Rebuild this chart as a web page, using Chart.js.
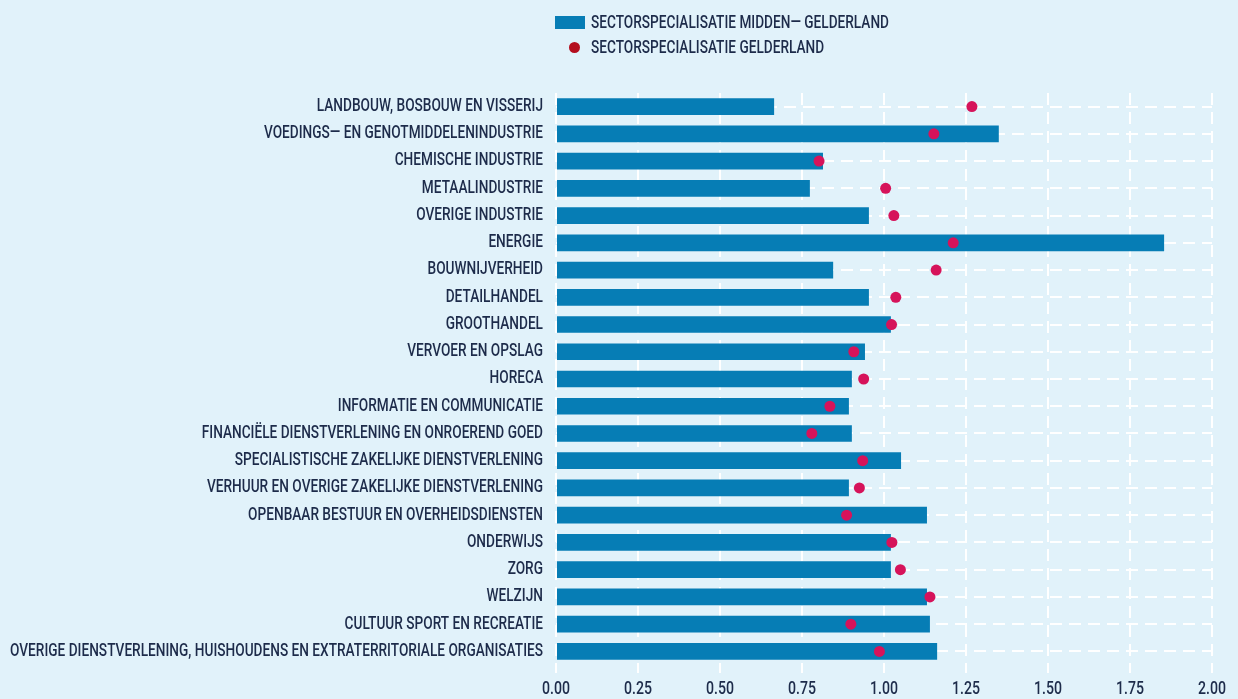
<!DOCTYPE html>
<html lang="nl">
<head>
<meta charset="utf-8">
<title>Sectorspecialisatie Midden-Gelderland</title>
<script src="https://cdn.jsdelivr.net/npm/chart.js@4"></script>
<style>
  html, body { margin: 0; padding: 0; background: #e1f2fa; }
  #wrap { position: relative; width: 1238px; height: 699px; overflow: hidden; }
  #legend { position: absolute; left: 555px; top: 10px; color: #1d2b4a; font-family: Roboto, 'Liberation Sans', sans-serif; font-weight: 500; font-size: 18.5px; }
  .item { position: relative; height: 25px; width: 400px; }
  .item span { position: absolute; }
  .item .txt { left: 36px; top: 0; line-height: 25px; white-space: nowrap; transform-origin: 0 50%; }
</style>
</head>
<body>
<div id="wrap">
  <canvas id="chart"></canvas>
  <div id="legend"></div>
</div>
<script>
// DATA

const categories = [
    "LANDBOUW, BOSBOUW EN VISSERIJ",
    "VOEDINGS— EN GENOTMIDDELENINDUSTRIE",
    "CHEMISCHE INDUSTRIE",
    "METAALINDUSTRIE",
    "OVERIGE INDUSTRIE",
    "ENERGIE",
    "BOUWNIJVERHEID",
    "DETAILHANDEL",
    "GROOTHANDEL",
    "VERVOER EN OPSLAG",
    "HORECA",
    "INFORMATIE EN COMMUNICATIE",
    "FINANCIËLE DIENSTVERLENING EN ONROEREND GOED",
    "SPECIALISTISCHE ZAKELIJKE DIENSTVERLENING",
    "VERHUUR EN OVERIGE ZAKELIJKE DIENSTVERLENING",
    "OPENBAAR BESTUUR EN OVERHEIDSDIENSTEN",
    "ONDERWIJS",
    "ZORG",
    "WELZIJN",
    "CULTUUR SPORT EN RECREATIE",
    "OVERIGE DIENSTVERLENING, HUISHOUDENS EN EXTRATERRITORIALE ORGANISATIES"
];

const middenGelderland = [0.665, 1.350, 0.814, 0.774, 0.954, 1.854, 0.845, 0.954, 1.021, 0.942, 0.902,
                          0.893, 0.902, 1.052, 0.893, 1.131, 1.021, 1.021, 1.131, 1.140, 1.162];

const gelderland = [1.268, 1.152, 0.802, 1.005, 1.030, 1.211, 1.159, 1.036, 1.023, 0.908, 0.938,
                    0.835, 0.780, 0.935, 0.925, 0.886, 1.024, 1.050, 1.140, 0.899, 0.986];

const xTicks = [0, 0.25, 0.5, 0.75, 1, 1.25, 1.5, 1.75, 2];

const seriesNames = ["SECTORSPECIALISATIE MIDDEN— GELDERLAND", "SECTORSPECIALISATIE GELDERLAND"];


// STYLE

const FONT = "Roboto, 'Liberation Sans', sans-serif";
const FONT_SIZE = 17.5;
const LEGEND_SIZE = 18.5;
const INK = "#1d2b4a";
const BAR = "#067db5";
const DOT = "#d6135a";
const LEGEND_DOT = "#b40f1e";
const GRID_DASH = [12, 7];

// the original uses a condensed face, so squeeze the text horizontally
const measure = document.createElement("canvas").getContext("2d");
const textWidth = (t, size) => {
    measure.font = "500 " + size + "px " + FONT;
    return measure.measureText(t).width;
};
const labelSqueeze = 533 / Math.max(...categories.map(c => textWidth(c, FONT_SIZE)));
const tickSqueeze = 28 / textWidth("0.00", FONT_SIZE);
const legendSqueeze = 298 / textWidth(seriesNames[0], LEGEND_SIZE);

function squeezeLabels(scale, factor) {
    const drawLabels = scale.drawLabels;
    scale.drawLabels = function (area) {
        const ctx = this.ctx;
        const fill = ctx.fillText;
        ctx.fillText = function (text, x, y) {
            this.save();
            this.translate(x, y);
            this.scale(factor, 1);
            fill.call(this, text, 0, 0);
            this.restore();
        };
        drawLabels.call(this, area);
        delete ctx.fillText;
    };
}

const narrowText = {
    id: "narrowText",
    afterLayout(chart) {
        if (chart.$narrow) return;
        chart.$narrow = true;
        squeezeLabels(chart.scales.y, labelSqueeze);
        squeezeLabels(chart.scales.x, tickSqueeze);
    }
};


// CHART

const chart = new Chart(document.getElementById("chart"), {
    type: "bar",
    data: {
        labels: categories,
        datasets: [
            {
                type: "line",
                label: seriesNames[1],
                data: gelderland,
                indexAxis: "y",
                showLine: false,
                pointRadius: 5.5,
                pointHoverRadius: 5.5,
                pointBorderWidth: 0,
                pointBackgroundColor: DOT,
                order: 0
            },
            {
                type: "bar",
                label: seriesNames[0],
                data: middenGelderland,
                indexAxis: "y",
                backgroundColor: BAR,
                barPercentage: 0.613,
                categoryPercentage: 1,
                order: 1
            }
        ]
    },
    options: {
        indexAxis: "y",
        responsive: true,
        maintainAspectRatio: false,
        animation: false,
        layout: { padding: { top: 93, right: 26, bottom: 0, left: 0 } },
        plugins: {
            legend: { display: false },
            tooltip: { enabled: false }
        },
        scales: {
            x: {
                type: "linear",
                position: "bottom",
                min: 0,
                max: 2,
                afterBuildTicks: s => { s.ticks = xTicks.map(v => ({ value: v })); },
                afterFit: s => { s.height = 34; },
                ticks: {
                    color: INK,
                    padding: 6,
                    font: { family: FONT, size: FONT_SIZE, weight: 500 },
                    callback: v => Number(v).toFixed(2)
                },
                grid: {
                    color: "#ffffff",
                    lineWidth: 2,
                    tickLength: 8,
                    tickColor: "#ffffff",
                    tickWidth: 2,
                    tickBorderDash: GRID_DASH
                },
                border: { display: false, dash: GRID_DASH }
            },
            y: {
                type: "category",
                afterFit: s => { s.width = 556; },
                ticks: {
                    color: INK,
                    padding: 13,
                    autoSkip: false,
                    font: { family: FONT, size: FONT_SIZE, weight: 500 }
                },
                grid: {
                    color: "#ffffff",
                    lineWidth: 2,
                    offset: false,
                    drawTicks: false
                },
                border: { display: false, dash: GRID_DASH }
            }
        }
    },
    plugins: [narrowText]
});


// LEGEND

const legend = document.getElementById("legend");
const barSet = chart.data.datasets.find(d => d.type === "bar");
const dotSet = chart.data.datasets.find(d => d.type === "line");

[
    { label: barSet.label, swatch: `left:0;top:6px;width:30px;height:13px;background:${barSet.backgroundColor}` },
    { label: dotSet.label, swatch: `left:13.5px;top:7px;width:11px;height:11px;border-radius:50%;background:${LEGEND_DOT}` }
].forEach(item => {
    const row = document.createElement("div");
    row.className = "item";
    row.innerHTML = `<span style="${item.swatch}"></span>` +
        `<span class="txt" style="transform:scaleX(${legendSqueeze})">${item.label}</span>`;
    legend.appendChild(row);
});
</script>
</body>
</html>
